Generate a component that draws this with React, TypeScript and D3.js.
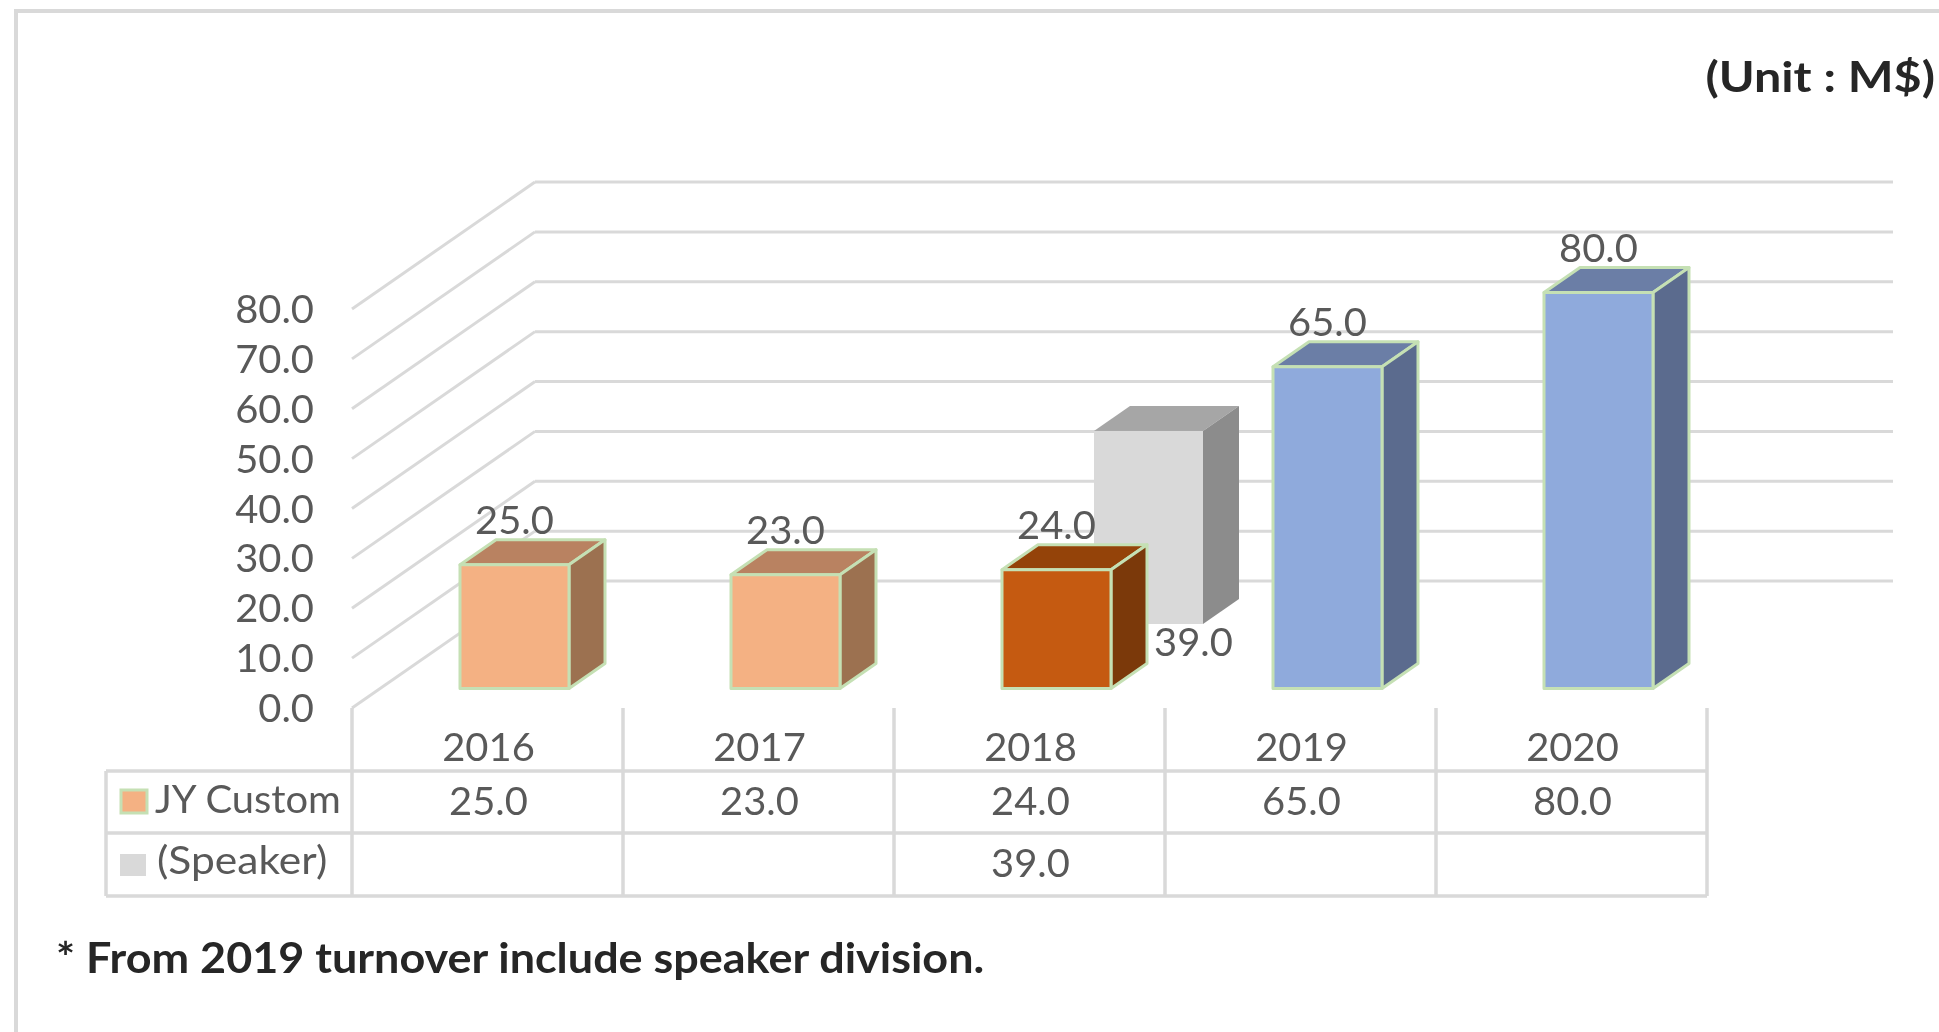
import React from "react";
import * as d3 from "d3";

const years = ["2016", "2017", "2018", "2019", "2020"];
const jyCustom = [25, 23, 24, 65, 80];
const speaker: (number | null)[] = [null, null, 39, null, null];
const yTicks = [0, 10, 20, 30, 40, 50, 60, 70, 80];
const barTones = ["peach", "peach", "orange", "blue", "blue"];

const tones: Record<string, { front: string; top: string; side: string }> = {
  peach: { front: "#F4B183", top: "#B98261", side: "#9C7150" },
  orange: { front: "#C55A11", top: "#944309", side: "#7B390A" },
  blue: { front: "#8FAADC", top: "#6B7EA6", side: "#5B6B8E" },
  grey: { front: "#D9D9D9", top: "#A6A6A6", side: "#8C8C8C" },
};

const GRID = "#D9D9D9";
const TEXT = "#595959";
const EDGE = "#C5E0B4";
const FONT = "Lato, 'Noto Sans', sans-serif";
const SIZE = 38;

const xBand = d3.scaleBand<string>().domain(years).range([352, 1707]).padding(0);
const yAxis = d3.scaleLinear().domain([0, 80]).range([708, 309]);
const yBar = d3.scaleLinear().domain([0, 80]).range([688.5, 292.5]);
const wallDx = 183;
const wallDy = -127;
const backRight = 1893;
const barOffset = 108;
const barW = 109;
const depthX = 36;
const depthY = 25;
const speakerShiftX = 92;
const speakerShiftY = -64.5;

function T(props: {
  x: number;
  y: number;
  s?: string;
  anchor?: string;
  size?: number;
  sx?: number;
  weight?: number;
  fill?: string;
}) {
  const { x, y, s, anchor = "start", size = SIZE, sx = 1.05, weight = 400, fill = TEXT } = props;
  return (
    <text
      transform={`translate(${x},${y}) scale(${sx},1)`}
      textAnchor={anchor}
      fontSize={size}
      fontWeight={weight}
      fill={fill}
    >
      {s}
    </text>
  );
}

function Box(props: { x: number; y0: number; h: number; tone: string; border: boolean }) {
  const { x, y0, h, tone, border } = props;
  const t = tones[tone];
  const yt = y0 - h;
  const stroke = border ? EDGE : "none";
  const sw = border ? 3 : 0;
  const top = d3.line()([
    [x, yt],
    [x + depthX, yt - depthY],
    [x + barW + depthX, yt - depthY],
    [x + barW, yt],
  ]) + "Z";
  const side = d3.line()([
    [x + barW, yt],
    [x + barW + depthX, yt - depthY],
    [x + barW + depthX, y0 - depthY],
    [x + barW, y0],
  ]) + "Z";
  return (
    <g strokeLinejoin="round">
      <path d={top} fill={t.top} stroke={stroke} strokeWidth={sw} />
      <path d={side} fill={t.side} stroke={stroke} strokeWidth={sw} />
      <rect x={x} y={yt} width={barW} height={h} fill={t.front} stroke={stroke} strokeWidth={sw} />
    </g>
  );
}

export default function App() {
  const step = xBand.step();
  const edges = years.map((y) => xBand(y)!).concat([xBand.range()[1]]);
  const tableTop = 771;
  const tableMid = 833;
  const tableBottom = 896;
  const tableLeft = 106;
  const f1 = d3.format(".1f");
  return (
    <svg
      width={1939}
      height={1032}
      style={{ position: "absolute", left: 0, top: 0, background: "#fff", filter: "blur(0.5px)" }}
      fontFamily={FONT}
    >
      {/* outer frame */}
      <path d="M1939 11H16V1032" fill="none" stroke={GRID} strokeWidth={4} />

      {/* walls */}
      {yTicks.map((v) => {
        const y = yAxis(v);
        return (
          <g key={v} stroke={GRID} strokeWidth={3} fill="none">
            <line x1={352} y1={y} x2={352 + wallDx} y2={y + wallDy} />
            <line x1={352 + wallDx} y1={y + wallDy} x2={backRight} y2={y + wallDy} />
          </g>
        );
      })}

      {/* y axis labels */}
      {yTicks.map((v) => (
        <T key={v} x={314} y={yAxis(v) + 14} anchor="end" s={f1(v)} />
      ))}

      {/* table */}
      <g stroke={GRID} strokeWidth={3.5} fill="none">
        {edges.map((x) => (
          <line key={x} x1={x} y1={yAxis(0)} x2={x} y2={tableBottom} />
        ))}
        <line x1={tableLeft} y1={tableTop} x2={tableLeft} y2={tableBottom} />
        {[tableTop, tableMid, tableBottom].map((y) => (
          <line key={y} x1={tableLeft} y1={y} x2={edges[edges.length - 1]} y2={y} />
        ))}
      </g>
      {years.map((y, i) => {
        const cx = xBand(y)! + step / 2 + 1;
        return (
          <g key={y}>
            <T x={cx} y={761} anchor="middle" s={y} />
            <T x={cx} y={815} anchor="middle" s={f1(jyCustom[i])} />
            {speaker[i] != null && <T x={cx} y={877} anchor="middle" s={f1(speaker[i] as number)} />}
          </g>
        );
      })}
      <rect x={121} y={790} width={26} height={23} fill={tones.peach.front} stroke={EDGE} strokeWidth={3} />
      <T x={155} y={813} s="JY Custom" />
      <rect x={120} y={854} width={26} height={22} fill={tones.grey.front} />
      <T x={157} y={874} sx={1.12} s="(Speaker)" />

      {/* speaker bar sits behind */}
      {years.map((y, i) =>
        speaker[i] == null ? null : (
          <Box
            key={y}
            x={xBand(y)! + barOffset + speakerShiftX}
            y0={yBar(0) + speakerShiftY}
            h={yBar(0) - yBar(speaker[i] as number)}
            tone="grey"
            border={false}
          />
        )
      )}
      {/* main bars */}
      {years.map((y, i) => (
        <Box
          key={y}
          x={xBand(y)! + barOffset}
          y0={yBar(0)}
          h={yBar(0) - yBar(jyCustom[i])}
          tone={barTones[i]}
          border
        />
      ))}
      {/* data labels */}
      {years.map((y, i) => (
        <T
          key={y}
          x={xBand(y)! + barOffset + barW / 2}
          y={yBar(jyCustom[i]) - 31}
          anchor="middle"
          s={f1(jyCustom[i])}
        />
      ))}
      {years.map((y, i) =>
        speaker[i] == null ? null : (
          <T
            key={y}
            x={xBand(y)! + barOffset + speakerShiftX + barW / 2 + 45}
            y={yBar(0) + speakerShiftY + 32}
            anchor="middle"
            s={f1(speaker[i] as number)}
          />
        )
      )}

      {/* notes */}
      <T x={1935} y={92} anchor="end" size={42} sx={1.155} weight={700} fill="#262626" s="(Unit : M$)" />
      <T x={56} y={973} size={42} sx={1.07} weight={700} fill="#262626" s="* From 2019 turnover include speaker division." />
    </svg>
  );
}
